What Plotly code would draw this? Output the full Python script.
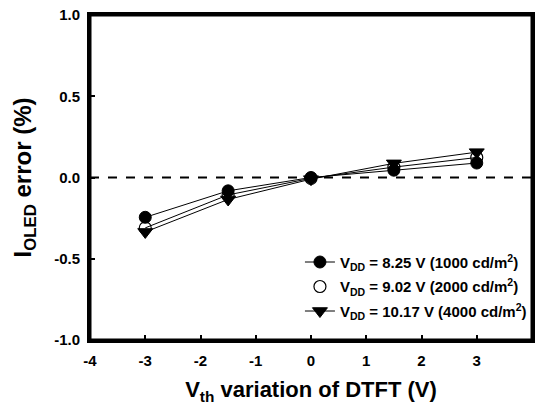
import plotly.graph_objects as go

x_vals = [-3, -1.5, 0, 1.5, 3]
s1 = [-0.245, -0.082, 0.0, 0.045, 0.089]
s2 = [-0.31, -0.107, -0.005, 0.064, 0.123]
s3 = [-0.335, -0.135, -0.01, 0.087, 0.156]
names = ["V<sub>DD</sub> = 8.25 V (1000 cd/m<sup>2</sup>)",
         "V<sub>DD</sub> = 9.02 V (2000 cd/m<sup>2</sup>)",
         "V<sub>DD</sub> = 10.17 V (4000 cd/m<sup>2</sup>)"]
x_ticks = [-4, -3, -2, -1, 0, 1, 2, 3, 4]
y_ticks = [-1.0, -0.5, 0.0, 0.5, 1.0]

fig = go.Figure()
# reference dashed line at zero
fig.add_trace(go.Scatter(x=[x_ticks[0], x_ticks[-1]], y=[0, 0], mode="lines",
                         line=dict(color="black", width=2, dash="dash"),
                         showlegend=False, hoverinfo="skip"))
styles = [
    dict(symbol="circle", size=12, color="black", line=dict(color="black", width=1)),
    dict(symbol="circle-open", size=12, color="black", line=dict(color="black", width=1.2)),
    dict(symbol="triangle-down", size=13, color="black", line=dict(color="black", width=1)),
]
for ys, st in zip([s1, s2, s3], styles):
    fig.add_trace(go.Scatter(x=x_vals, y=ys, mode="lines+markers",
                             line=dict(color="black", width=1),
                             marker=st, showlegend=False))
# legend entries
for i, (nm, st) in enumerate(zip(names, styles)):
    fig.add_trace(go.Scatter(x=[None], y=[None],
                             mode="markers" if i == 1 else "lines+markers",
                             line=dict(color="black", width=1), legendgroup=f"g{i}",
                             marker=st, name=f"<b>{nm}</b>"))

axis_common = dict(showline=True, linewidth=3, linecolor="black", mirror=True,
                   ticks="inside", ticklen=5, tickwidth=2, tickcolor="black",
                   showgrid=False, zeroline=False, automargin=False,
                   tickfont=dict(family="Liberation Sans", size=15, color="black"))
fig.update_xaxes(range=[-4, 4], tickvals=x_ticks, ticktext=[f"<b>{v}</b>" for v in x_ticks],
                 ticklabelstandoff=5,
                 title=dict(text="<b>V<sub>th</sub> variation of DTFT (V)</b>",
                            font=dict(family="Liberation Sans", size=22, color="black"),
                            standoff=19),
                 **axis_common)
fig.update_yaxes(range=[-1, 1], tickvals=y_ticks, ticktext=[f"<b>{v:.1f}</b>" for v in y_ticks],
                 ticklabelstandoff=4,
                 title=dict(text="<b>I<sub>OLED</sub> error (%)</b>",
                            font=dict(family="Liberation Sans", size=24, color="black"),
                            standoff=16),
                 **axis_common)
# plot frame
fig.add_shape(type="rect", xref="paper", yref="paper", x0=0, y0=0, x1=1, y1=1,
              line=dict(color="black", width=3), layer="above")
fig.update_layout(width=535, height=405, margin=dict(l=90, r=3, t=15, b=65),
                  plot_bgcolor="white", paper_bgcolor="white",
                  legend=dict(x=0.475, y=0.29, xanchor="left", yanchor="top",
                              bgcolor="rgba(0,0,0,0)", tracegroupgap=2,
                              traceorder="grouped",
                              font=dict(family="Liberation Sans", size=15, color="black")))
fig.write_html("out.html", config={"displayModeBar": False},
               post_script="document.body.style.margin='0';document.body.style.overflow='hidden';")
